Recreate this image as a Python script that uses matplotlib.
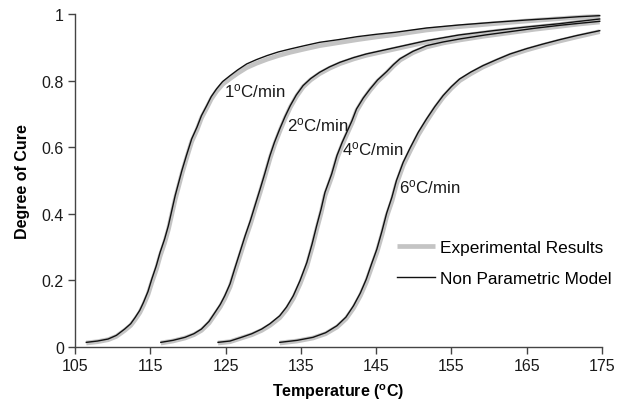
import numpy as np
import matplotlib.pyplot as plt

plt.rcParams['font.family'] = ['Liberation Sans', 'DejaVu Sans']
plt.rcParams['mathtext.default'] = 'regular'

# Degree of cure vs temperature, one temperature grid per heating rate
t_1 = [106.5, 108.0, 109.4, 110.5, 111.6, 112.4, 113.0, 113.6, 114.1, 114.7,
       115.2, 115.8, 116.3, 116.9, 117.4, 118.3, 119.2, 119.8, 120.5, 121.2,
       121.8, 122.5, 123.1, 123.8, 124.6, 125.6, 126.6, 127.8, 129.1, 130.5,
       132.0, 133.6, 135.5, 137.5, 140.0, 142.5, 145.0, 147.5, 151.7, 156.0,
       160.6, 165.0, 169.4, 172.0, 174.7]
t_2 = [116.4, 118.0, 119.6, 120.8, 121.8, 122.8, 123.6, 124.3, 124.9, 125.6,
       126.2, 126.9, 127.6, 128.3, 128.9, 129.6, 130.2, 130.9, 131.5, 132.2,
       132.9, 133.6, 134.4, 135.3, 136.3, 137.5, 138.8, 140.2, 142.0, 143.7,
       145.7, 147.7, 151.7, 156.0, 160.6, 165.0, 169.4, 172.0, 174.7]
t_4 = [124.0, 125.6, 127.1, 128.5, 129.8, 130.9, 132.2, 133.1, 134.0, 134.9,
       135.8, 136.5, 137.1, 137.7, 138.2, 139.1, 139.8, 140.5, 141.1, 141.8,
       142.4, 143.3, 144.2, 145.2, 146.4, 147.3, 148.2, 149.9, 151.7, 153.9,
       156.1, 159.5, 162.8, 166.0, 169.4, 172.0, 174.7]
t_6 = [132.2, 134.5, 136.6, 138.3, 139.8, 141.0, 142.0, 142.9, 143.7, 144.4,
       145.1, 145.8, 146.4, 147.1, 147.7, 148.6, 149.5, 150.6, 151.7, 152.8,
       153.9, 155.0, 156.1, 157.6, 159.2, 161.0, 162.8, 165.0, 167.2, 169.4,
       171.6, 174.7]

# Non parametric model
a_1 = [0.014, 0.018, 0.024, 0.035, 0.054, 0.070, 0.089, 0.110, 0.134, 0.167,
       0.204, 0.244, 0.284, 0.324, 0.364, 0.454, 0.530, 0.575, 0.625, 0.660,
       0.695, 0.725, 0.752, 0.775, 0.797, 0.815, 0.832, 0.850, 0.863, 0.875,
       0.886, 0.895, 0.905, 0.915, 0.923, 0.932, 0.939, 0.945, 0.958, 0.967,
       0.975, 0.982, 0.988, 0.992, 0.995]
a_2 = [0.014, 0.020, 0.029, 0.040, 0.054, 0.077, 0.104, 0.128, 0.154, 0.190,
       0.234, 0.284, 0.334, 0.380, 0.424, 0.475, 0.520, 0.575, 0.615, 0.655,
       0.692, 0.725, 0.757, 0.785, 0.806, 0.825, 0.841, 0.855, 0.869, 0.880,
       0.890, 0.900, 0.920, 0.937, 0.950, 0.961, 0.971, 0.978, 0.985]
a_4 = [0.014, 0.018, 0.029, 0.040, 0.054, 0.070, 0.094, 0.120, 0.154, 0.200,
       0.254, 0.310, 0.364, 0.415, 0.464, 0.520, 0.575, 0.615, 0.645, 0.680,
       0.715, 0.748, 0.775, 0.802, 0.827, 0.848, 0.866, 0.888, 0.905, 0.916,
       0.925, 0.937, 0.947, 0.957, 0.966, 0.972, 0.978]
a_6 = [0.014, 0.020, 0.029, 0.043, 0.064, 0.090, 0.124, 0.162, 0.204, 0.250,
       0.294, 0.350, 0.402, 0.450, 0.500, 0.555, 0.597, 0.645, 0.685, 0.722,
       0.755, 0.782, 0.805, 0.826, 0.845, 0.863, 0.880, 0.896, 0.910, 0.923,
       0.935, 0.950]

# Experimental results
ae_1 = [0.012, 0.016, 0.022, 0.032, 0.050, 0.065, 0.083, 0.103, 0.126, 0.158,
        0.194, 0.233, 0.273, 0.313, 0.353, 0.443, 0.520, 0.566, 0.617, 0.652,
        0.688, 0.718, 0.745, 0.768, 0.789, 0.806, 0.822, 0.839, 0.852, 0.864,
        0.875, 0.885, 0.895, 0.905, 0.914, 0.923, 0.931, 0.938, 0.952, 0.962,
        0.971, 0.979, 0.986, 0.990, 0.993]
ae_2 = [0.012, 0.018, 0.027, 0.037, 0.050, 0.072, 0.098, 0.121, 0.146, 0.181,
        0.224, 0.273, 0.323, 0.369, 0.414, 0.465, 0.511, 0.566, 0.607, 0.648,
        0.686, 0.720, 0.752, 0.781, 0.802, 0.821, 0.837, 0.851, 0.865, 0.876,
        0.886, 0.896, 0.916, 0.933, 0.947, 0.958, 0.968, 0.976, 0.983]
ae_4 = [0.012, 0.016, 0.027, 0.037, 0.050, 0.065, 0.088, 0.113, 0.146, 0.190,
        0.243, 0.299, 0.353, 0.404, 0.454, 0.511, 0.566, 0.607, 0.638, 0.673,
        0.709, 0.743, 0.771, 0.798, 0.823, 0.844, 0.862, 0.884, 0.901, 0.913,
        0.922, 0.934, 0.944, 0.954, 0.963, 0.970, 0.976]
ae_6 = [0.012, 0.018, 0.027, 0.040, 0.060, 0.085, 0.117, 0.154, 0.195, 0.240,
        0.284, 0.339, 0.392, 0.438, 0.489, 0.546, 0.588, 0.637, 0.678, 0.716,
        0.750, 0.777, 0.800, 0.821, 0.841, 0.859, 0.876, 0.892, 0.906, 0.919,
        0.931, 0.947]

rate_labels = [r'1$^{o}$C/min', r'2$^{o}$C/min', r'4$^{o}$C/min', r'6$^{o}$C/min']
label_pos = [(124.8, 0.772), (133.1, 0.67), (140.5, 0.598), (148.1, 0.483)]

x_ticks = [105, 115, 125, 135, 145, 155, 165, 175]
y_ticks = [0, 0.2, 0.4, 0.6, 0.8, 1]
y_tick_labels = ['0', '0.2', '0.4', '0.6', '0.8', '1']

fig = plt.figure(figsize=(6.24, 4.02), dpi=100)
ax = fig.add_axes([0.1202, 0.1343, 0.8445, 0.8284])

temps = [t_1, t_2, t_4, t_6]
exp_vals = [ae_1, ae_2, ae_4, ae_6]
mod_vals = [a_1, a_2, a_4, a_6]

for i, (t, a) in enumerate(zip(temps, exp_vals)):
    ax.plot(t, a, color='#c4c4c4', lw=3.4, solid_capstyle='butt',
            label='Experimental Results' if i == 0 else None, zorder=2)
for i, (t, a) in enumerate(zip(temps, mod_vals)):
    ax.plot(t, a, color='#111111', lw=1.0,
            label='Non Parametric Model' if i == 0 else None, zorder=3)

for txt, (x, y) in zip(rate_labels, label_pos):
    ax.text(x, y, txt, fontsize=12.2, ha='left', va='center', color='#1a1a1a')

ax.set_xlim(105, 175)
ax.set_ylim(0, 1)
ax.set_xticks(x_ticks)
ax.set_yticks(y_ticks)
ax.set_yticklabels(y_tick_labels)

for side in ['top', 'right']:
    ax.spines[side].set_visible(False)
for side in ['left', 'bottom']:
    ax.spines[side].set_color('#444444')
    ax.spines[side].set_linewidth(1.0)
ax.tick_params(direction='out', length=5, width=1, color='#444444',
               labelsize=11.5, labelcolor='#1a1a1a', pad=3)

ax.set_xlabel(r'Temperature ($^{o}$C)', fontsize=11.5, fontweight='bold', labelpad=6)
ax.set_ylabel('Degree of Cure', fontsize=11.5, fontweight='bold', labelpad=8)

ax.legend(loc='upper left', bbox_to_anchor=(0.611, 0.322), frameon=False,
          fontsize=12.4, handlelength=2.2, handletextpad=0.3, labelspacing=0.96,
          borderpad=0, borderaxespad=0)

fig.savefig('out.png', dpi=100)
